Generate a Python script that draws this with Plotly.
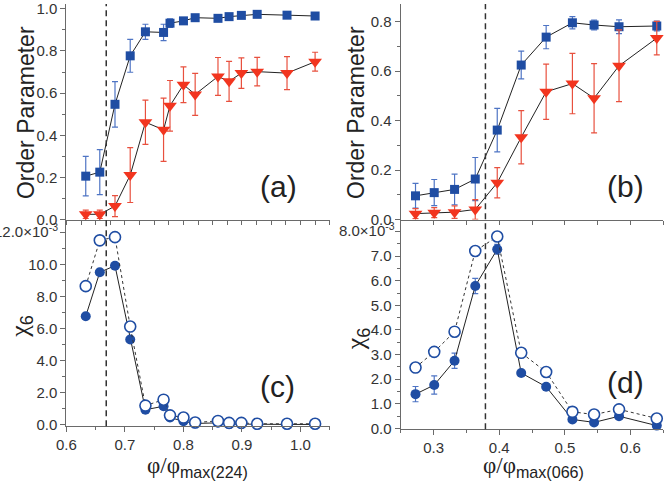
import plotly.graph_objects as go

# ---------------- data ----------------
# Panels (a) and (c): phi/phi_max(224)
x_ac = [0.633, 0.657, 0.683, 0.709, 0.735, 0.766, 0.777, 0.800, 0.820, 0.859, 0.878, 0.899, 0.926, 0.977, 1.025]
sq_a = [0.206, 0.225, 0.547, 0.777, 0.891, 0.888, 0.932, 0.943, 0.958, 0.955, 0.963, 0.969, 0.974, 0.970, 0.966]
sq_a_err = [0.094, 0.107, 0.108, 0.078, 0.036, 0.039, 0.02, 0.012, 0.01, 0.01, 0.01, 0.01, 0.01, 0.01, 0.01]
tri_a = [0.025, 0.025, 0.064, 0.211, 0.462, 0.426, 0.54, 0.64, 0.594, 0.679, 0.656, 0.695, 0.702, 0.695, 0.749]
tri_a_err = [0.02, 0.02, 0.05, 0.13, 0.105, 0.15, 0.12, 0.085, 0.1, 0.09, 0.095, 0.072, 0.068, 0.078, 0.045]
chi_c_filled = [6.78, 9.53, 9.94, 5.32, 0.92, 1.14, 0.43, 0.20, 0.06, 0.10, 0.02, 0.02, 0.0, 0.0, 0.0]
chi_c_open = [8.66, 11.53, 11.73, 6.13, 1.18, 1.55, 0.57, 0.43, 0.12, 0.22, 0.10, 0.10, 0.04, 0.04, 0.04]
vline_ac = 0.668

# Panels (b) and (d): phi/phi_max(066)
x_bd = [0.2725, 0.301, 0.332, 0.3635, 0.397, 0.4335, 0.4715, 0.5115, 0.5445, 0.5825, 0.640]
sq_b = [0.096, 0.109, 0.122, 0.164, 0.362, 0.625, 0.738, 0.796, 0.787, 0.780, 0.783]
sq_b_err = [0.05, 0.053, 0.062, 0.087, 0.088, 0.056, 0.047, 0.025, 0.02, 0.028, 0.02]
tri_b = [0.024, 0.028, 0.03, 0.041, 0.149, 0.333, 0.517, 0.55, 0.491, 0.622, 0.734]
tri_b_err = [0.02, 0.02, 0.025, 0.04, 0.061, 0.108, 0.112, 0.122, 0.14, 0.145, 0.068]
chi_d_filled = [1.39, 1.76, 2.75, 5.79, 7.28, 2.25, 1.69, 0.36, 0.24, 0.49, 0.11]
chi_d_err = [0.31, 0.37, 0.31, 0.31, 0.2, 0.1, 0.1, 0.05, 0.05, 0.05, 0.05]
chi_d_open = [2.47, 3.11, 3.93, 7.21, 7.80, 3.07, 2.29, 0.67, 0.56, 0.77, 0.40]
vline_bd = 0.379

c_tick_vals = [0, 2, 4, 6, 8, 10]
c_tick_text = ["0.0", "2.0", "4.0", "6.0", "8.0", "10.0"]
c_top_val = 12
c_top_text = "12.0×10<sup>-3</sup>"
d_tick_vals = [0, 1, 2, 3, 4, 5, 6, 7]
d_tick_text = ["0.0", "1.0", "2.0", "3.0", "4.0", "5.0", "6.0", "7.0"]
d_top_val = 8
d_top_text = "8.0×10<sup>-3</sup>"

# ---------------- style ----------------
BLUE = "#1F4DA3"
BLUE_ERR = "#4E74C4"
RED = "#F2351F"
RED_ERR = "#E8503E"
LINE = "#222222"
AX = "#6A6A6A"
FONT = "Liberation Sans, Arial, sans-serif"
SERIF = "Liberation Serif"

W, H = 666, 488
def px_x(p):
    return p / W
def px_y(p):
    return 1 - p / H

fig = go.Figure()

def add_op(xs, sq, sqe, tri, trie, xa, ya):
    fig.add_trace(go.Scatter(
        x=xs, y=sq, mode="lines+markers", xaxis=xa, yaxis=ya,
        line=dict(color=LINE, width=1),
        marker=dict(symbol="square", size=9, color=BLUE),
        error_y=dict(type="data", array=sqe, color=BLUE_ERR, thickness=1.2, width=3),
        cliponaxis=False, showlegend=False))
    fig.add_trace(go.Scatter(
        x=xs, y=tri, mode="lines+markers", xaxis=xa, yaxis=ya,
        line=dict(color=LINE, width=1),
        marker=dict(symbol="triangle-down", size=12, color=RED),
        error_y=dict(type="data", array=trie, color=RED_ERR, thickness=1.2, width=3),
        cliponaxis=False, showlegend=False))

def add_chi(xs, filled, open_, xa, ya, ferr=None):
    ey = dict(type="data", array=ferr, color=BLUE_ERR, thickness=1.2, width=3) if ferr else None
    fig.add_trace(go.Scatter(
        x=xs, y=filled, mode="lines+markers", xaxis=xa, yaxis=ya,
        line=dict(color=LINE, width=1),
        marker=dict(symbol="circle", size=10, color=BLUE),
        error_y=ey, cliponaxis=False, showlegend=False))
    fig.add_trace(go.Scatter(
        x=xs, y=open_, mode="lines+markers", xaxis=xa, yaxis=ya,
        line=dict(color="#333333", width=1, dash="dot"),
        marker=dict(symbol="circle", size=11, color="white", line=dict(color=BLUE, width=1.6)),
        cliponaxis=False, showlegend=False))

add_op(x_ac, sq_a, sq_a_err, tri_a, tri_a_err, "x", "y")
add_op(x_bd, sq_b, sq_b_err, tri_b, tri_b_err, "x2", "y2")
add_chi(x_ac, chi_c_filled, chi_c_open, "x3", "y3")
add_chi(x_bd, chi_d_filled, chi_d_open, "x4", "y4", chi_d_err)

tickfont = dict(family=FONT, size=15, color="#333333")
common = dict(showline=True, linecolor=AX, linewidth=1.2, ticks="outside", tickcolor=AX,
              ticklen=5, tickwidth=1.2, showgrid=False, zeroline=False, tickfont=tickfont,
              ticklabeloverflow="allow")

dom_x_ac = [px_x(57.3), px_x(324.6)]
dom_x_bd = [px_x(396.7), px_x(663.3)]
dom_y_top = [px_y(221), 1.0]
dom_y_c = [px_y(433), px_y(221)]
dom_y_d = [px_y(436), px_y(221)]

fig.update_layout(
    width=W, height=H, margin=dict(l=0, r=0, t=0, b=0),
    paper_bgcolor="white", plot_bgcolor="white",
    xaxis=dict(domain=dom_x_ac, range=[0.6, 1.05], anchor="y", showticklabels=False,
               tickmode="linear", tick0=0.6, dtick=0.025, **{**common, "ticklen": 4}),
    yaxis=dict(domain=dom_y_top, range=[0, 1.023], anchor="x", tickmode="linear", tick0=0, dtick=0.2,
               tickformat=".1f", minor=dict(dtick=0.1, ticks="outside", ticklen=3, tickcolor=AX),
               **common),
    xaxis2=dict(domain=dom_x_bd, range=[0.25, 0.65], anchor="y2", showticklabels=False,
                tickmode="linear", tick0=0.25, dtick=0.05, **{**common, "ticklen": 4}),
    yaxis2=dict(domain=dom_y_top, range=[0, 0.872], anchor="x2", tickmode="linear", tick0=0, dtick=0.2,
                tickformat=".1f", minor=dict(dtick=0.1, ticks="outside", ticklen=3, tickcolor=AX),
                **common),
    xaxis3=dict(domain=dom_x_ac, range=[0.6, 1.05], anchor="y3", tickmode="linear", tick0=0.6, dtick=0.1,
                tickformat=".1f", minor=dict(dtick=0.05, ticks="outside", ticklen=3, tickcolor=AX),
                **common),
    yaxis3=dict(domain=dom_y_c, range=[-0.12, 12.83], anchor="x3", tickmode="array",
                tickvals=c_tick_vals + [c_top_val], ticktext=c_tick_text + [""],
                minor=dict(tickvals=[1, 3, 5, 7, 9, 11], ticks="outside", ticklen=3, tickcolor=AX),
                **common),
    xaxis4=dict(domain=dom_x_bd, range=[0.25, 0.65], anchor="y4", tickmode="linear", tick0=0.3, dtick=0.1,
                tickformat=".1f", minor=dict(dtick=0.05, tick0=0.25, ticks="outside", ticklen=3, tickcolor=AX),
                **common),
    yaxis4=dict(domain=dom_y_d, range=[-0.04, 8.49], anchor="x4", tickmode="array",
                tickvals=d_tick_vals + [d_top_val], ticktext=d_tick_text + [""],
                minor=dict(dtick=0.5, ticks="outside", ticklen=3, tickcolor=AX),
                **common),
)

# scaled top tick labels (placed at the top tick of each chi axis)
fig.add_annotation(text=c_top_text, x=0, y=c_top_val, xref="x3 domain", yref="y3",
                   xanchor="right", yanchor="middle", xshift=-6, yshift=2, showarrow=False,
                   font=dict(family=FONT, size=15, color="#333333"))
fig.add_annotation(text=d_top_text, x=0, y=d_top_val, xref="x4 domain", yref="y4",
                   xanchor="right", yanchor="middle", xshift=-4, yshift=2, showarrow=False,
                   font=dict(family=FONT, size=15, color="#333333"))

# dashed vertical lines
fig.add_shape(type="line", xref="x", yref="paper", x0=vline_ac, x1=vline_ac,
              y0=dom_y_c[0], y1=1.0, line=dict(color="#333333", width=1.5, dash="6px,4px"))
fig.add_shape(type="line", xref="x2", yref="paper", x0=vline_bd, x1=vline_bd,
              y0=dom_y_d[0], y1=1.0, line=dict(color="#333333", width=1.5, dash="6px,4px"))

# axis titles
def ann(text, x, y, size, angle=0, family=FONT):
    fig.add_annotation(text=text, x=px_x(x), y=px_y(y), xref="paper", yref="paper",
                       showarrow=False, textangle=angle, xanchor="center", yanchor="middle",
                       font=dict(family=family, size=size, color="#222222"))

ann("Order Parameter", 17, 111, 23, -90)
ann("Order Parameter", 352, 111, 23, -90)
chi = 'χ<sub><span style="font-family:Liberation Sans">6</span></sub>'
ann(chi, 11, 330, 26, -90, SERIF)
ann(chi, 352, 343, 26, -90, SERIF)
ann('φ/φ<sub><span style="font-family:Liberation Sans">max(224)</span></sub>', 190, 475, 23, 0, SERIF)
ann('φ/φ<sub><span style="font-family:Liberation Sans">max(066)</span></sub>', 531, 475, 23, 0, SERIF)

# panel labels
ann("(a)", 273, 187, 30)
ann("(b)", 625, 187, 30)
ann("(c)", 272, 392, 30)
ann("(d)", 625, 388, 30)

fig.write_html("out.html")
